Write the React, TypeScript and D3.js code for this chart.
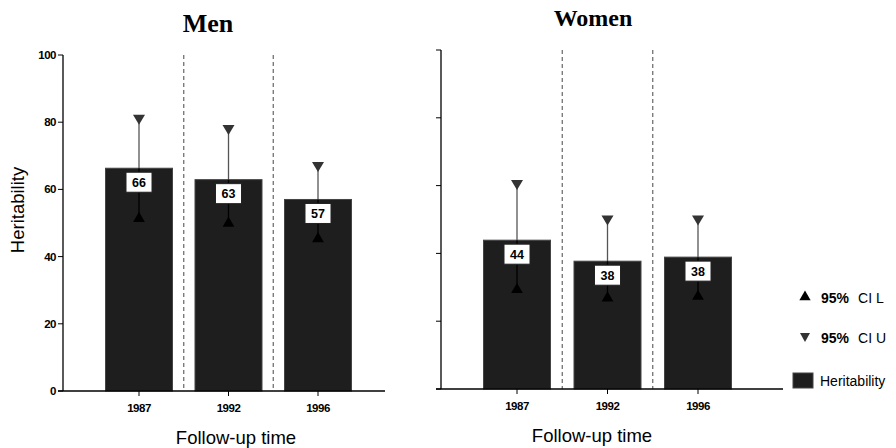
import React from "react";
import * as d3 from "d3";

const years = ["1987", "1992", "1996"];
const menH = [66.3, 62.9, 57.0];
const menLabels = ["66", "63", "57"];
const menCIL = [51, 49.6, 45];
const menCIU = [81, 78, 67];
const womenH = [43.9, 37.7, 38.9];
const womenLabels = ["44", "38", "38"];
const womenCIL = [29, 26.5, 27];
const womenCIU = [60.5, 50, 50];
const yTicks = [0, 20, 40, 60, 80, 100];

type PanelProps = {
  title: string;
  titleX: number;
  titleY: number;
  titleSize: number;
  axisX: number;
  axisRight: number;
  top: number;
  bottom: number;
  c0: number;
  c1: number;
  values: number[];
  labels: string[];
  cil: number[];
  ciu: number[];
  showTickLabels: boolean;
  xTitleX: number;
};

const ARIAL = "Liberation Sans, Arial, sans-serif";

function Panel(p: PanelProps) {
  const y = d3.scaleLinear().domain([0, 100]).range([p.bottom, p.top]);
  const x = d3.scalePoint<string>().domain(years).range([p.c0, p.c1]);
  const step = x.step();
  const bw = 67;
  const up = d3.symbol().type(d3.symbolTriangle).size(60);
  const downPath = "M0,6 L-6,-4 L6,-4 Z";
  return (
    <g>
      <text x={p.titleX} y={p.titleY} textAnchor="middle" fontFamily="Liberation Serif, Times New Roman, serif" fontWeight="bold" fontSize={p.titleSize}>{p.title}</text>
      {years.slice(0, -1).map((yr, i) => (
        <line key={"d" + i} x1={(x(yr) as number) + step / 2} x2={(x(yr) as number) + step / 2} y1={p.top} y2={p.bottom} stroke="#666" strokeWidth={1.2} strokeDasharray="4,3" />
      ))}
      {years.map((yr, i) => {
        const cx = x(yr) as number;
        return (
          <g key={yr}>
            <rect x={cx - bw / 2} y={y(p.values[i])} width={bw} height={p.bottom - y(p.values[i])} fill="#1e1e1e" stroke="#444" strokeWidth={1} />
            <line x1={cx} x2={cx} y1={y(p.ciu[i])} y2={y(p.values[i])} stroke="#555" strokeWidth={1.3} />
            <line x1={cx} x2={cx} y1={y(p.values[i])} y2={y(p.cil[i])} stroke="#000" strokeWidth={1.3} />
            <path d={downPath} transform={`translate(${cx},${y(p.ciu[i])})`} fill="#333" />
            <path d={up() as string} transform={`translate(${cx},${y(p.cil[i]) - 1})`} fill="#000" />
            <rect x={cx - 13} y={y(p.values[i]) + 4} width={26} height={20} fill="#fff" stroke="#222" strokeWidth={1} />
            <text x={cx} y={y(p.values[i]) + 18.5} textAnchor="middle" fontFamily={ARIAL} fontWeight="bold" fontSize={12.5}>{p.labels[i]}</text>
          </g>
        );
      })}
      <line x1={p.axisX} x2={p.axisX} y1={p.top} y2={p.bottom} stroke="#000" strokeWidth={1.3} />
      {yTicks.map((t) => (
        <g key={t}>
          <line x1={p.axisX - 5} x2={p.axisX} y1={y(t)} y2={y(t)} stroke="#000" strokeWidth={1} />
          {p.showTickLabels && (
            <text x={p.axisX - 7} y={y(t) + 4} textAnchor="end" fontFamily={ARIAL} fontWeight="bold" fontSize={11.5} letterSpacing={-0.5}>{t}</text>
          )}
        </g>
      ))}
      <line x1={p.axisX - 5} x2={p.axisRight} y1={p.bottom} y2={p.bottom} stroke="#000" strokeWidth={1.3} />
      {years.map((yr) => (
        <g key={"t" + yr}>
          <line x1={x(yr) as number} x2={x(yr) as number} y1={p.bottom} y2={p.bottom + 5} stroke="#000" strokeWidth={1} />
          <text x={x(yr) as number} y={p.bottom + 21} textAnchor="middle" fontFamily={ARIAL} fontWeight="bold" fontSize={11.5} letterSpacing={-0.5}>{yr}</text>
        </g>
      ))}
      <text x={p.xTitleX} y={p.bottom + 53} textAnchor="middle" fontFamily={ARIAL} fontSize={18.5}>Follow-up time</text>
    </g>
  );
}

export default function App() {
  const up = d3.symbol().type(d3.symbolTriangle).size(55);
  return (
    <svg width={896} height={448} style={{ position: "absolute", left: 0, top: 0, background: "#fff" }}>
      <rect width={896} height={448} fill="#fff" />
      <text transform="translate(24,210) rotate(-90)" textAnchor="middle" fontFamily={ARIAL} fontSize={18.5}>Heritability</text>
      <Panel title="Men" titleX={208} titleY={32} titleSize={26} axisX={63} axisRight={385} top={55} bottom={391} c0={139} c1={318}
        values={menH} labels={menLabels} cil={menCIL} ciu={menCIU} showTickLabels={true} xTitleX={236} />
      <Panel title="Women" titleX={593} titleY={26} titleSize={24} axisX={441} axisRight={783} top={50} bottom={389} c0={517} c1={698}
        values={womenH} labels={womenLabels} cil={womenCIL} ciu={womenCIU} showTickLabels={false} xTitleX={592} />
      <path d={up() as string} transform="translate(805,297)" fill="#000" />
      <text x={821} y={303} fontFamily={ARIAL} fontSize={14}><tspan fontWeight="bold">95%</tspan><tspan dx={9}>CI L</tspan></text>
      <path d="M0,5 L-5,-4 L5,-4 Z" transform="translate(805,337)" fill="#333" />
      <text x={821} y={343} fontFamily={ARIAL} fontSize={14}><tspan fontWeight="bold">95%</tspan><tspan dx={9}>CI U</tspan></text>
      <rect x={793} y={373} width={20} height={15} fill="#1e1e1e" stroke="#444" />
      <text x={820} y={386} fontFamily={ARIAL} fontSize={14}>Heritability</text>
    </svg>
  );
}
